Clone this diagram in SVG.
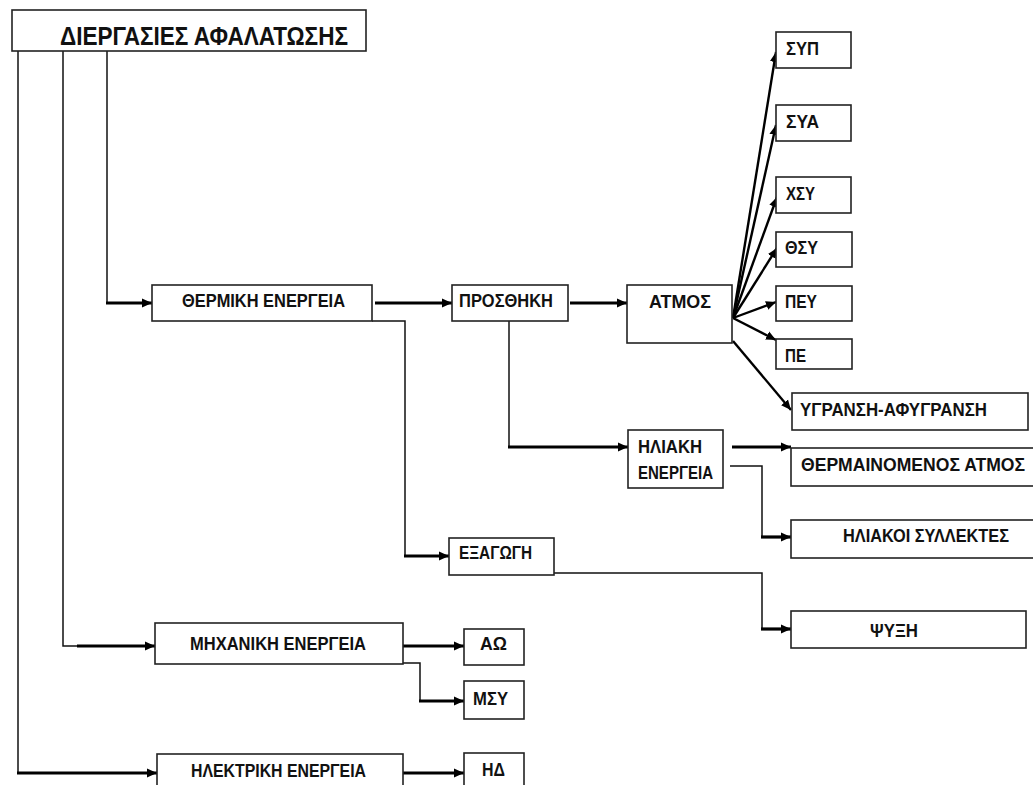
<svg xmlns="http://www.w3.org/2000/svg" width="1033" height="785" viewBox="0 0 1033 785">
<style>
.box{fill:#fff;stroke:#222;stroke-width:1.6}
.t{font-family:"Liberation Sans",Arial,sans-serif;font-weight:bold;font-size:19px;fill:#111}
.title{font-size:26px}
.thin{fill:none;stroke:#111;stroke-width:1.5}
.thick{fill:none;stroke:#000;stroke-width:3.2;marker-end:url(#ah)}
.fan{fill:none;stroke:#000;stroke-width:2.4;marker-end:url(#ah)}
</style>
<defs>
<marker id="ah" markerUnits="userSpaceOnUse" markerWidth="10" markerHeight="10" refX="10" refY="5" orient="auto">
<path d="M0,0.5 L10,5 L0,9.5 z" fill="#000"/>
</marker>
</defs>
<rect width="1033" height="785" fill="#fff"/>
<g id="connectors">
<path class="thin" d="M107,51 V303"/>
<path class="thick" d="M106,303 H152"/>
<path class="thin" d="M63,51 V646 H78"/>
<path class="thick" d="M77,646 H155"/>
<path class="thin" d="M18,51 V773"/>
<path class="thick" d="M17,773 H157"/>
<path class="thick" d="M375,303 H452"/>
<path class="thick" d="M570,303 H627"/>
<path class="thin" d="M372,321 H405 V556"/>
<path class="thick" d="M404,556 H449"/>
<path class="thin" d="M509,321 V447"/>
<path class="thick" d="M508,447 H628"/>
<path class="fan" d="M733,318 L776,52"/>
<path class="fan" d="M733,318 L776,125"/>
<path class="fan" d="M733,318 L777,197"/>
<path class="fan" d="M733,318 L777,248"/>
<path class="fan" d="M733,318 L776,302"/>
<path class="fan" d="M733,318 L776,340"/>
<path class="fan" d="M733,341 L791,410"/>
<path class="thick" d="M732,447 H791"/>
<path class="thin" d="M730,466 H762 V537"/>
<path class="thick" d="M761,537 H791"/>
<path class="thin" d="M554,573 H762 V629"/>
<path class="thick" d="M761,629 H791"/>
<path class="thick" d="M403,646 H464"/>
<path class="thin" d="M403,663 H420 V701"/>
<path class="thick" d="M419,701 H464"/>
<path class="thick" d="M403,773 H464"/>
</g>
<g id="n-title"><rect class="box" x="12" y="10" width="354" height="41"/><text class="t title" x="60" y="45" textLength="288" lengthAdjust="spacingAndGlyphs">ΔΙΕΡΓΑΣΙΕΣ  ΑΦΑΛΑΤΩΣΗΣ</text></g>
<g id="n-thermiki"><rect class="box" x="152" y="285" width="220" height="36"/><text class="t" x="182" y="307" textLength="163" lengthAdjust="spacingAndGlyphs">ΘΕΡΜΙΚΗ ΕΝΕΡΓΕΙΑ</text></g>
<g id="n-prosthiki"><rect class="box" x="452" y="285" width="116" height="36"/><text class="t" x="459" y="307" textLength="94" lengthAdjust="spacingAndGlyphs">ΠΡΟΣΘΗΚΗ</text></g>
<g id="n-atmos"><rect class="box" x="627" y="285" width="105" height="58"/><text class="t" x="649" y="308" textLength="62" lengthAdjust="spacingAndGlyphs">ΑΤΜΟΣ</text></g>
<g id="n-syp"><rect class="box" x="776" y="32" width="75" height="36"/><text class="t" x="786" y="55" textLength="33" lengthAdjust="spacingAndGlyphs">ΣΥΠ</text></g>
<g id="n-sya"><rect class="box" x="776" y="105" width="75" height="36"/><text class="t" x="786" y="128" textLength="33" lengthAdjust="spacingAndGlyphs">ΣΥΑ</text></g>
<g id="n-xsy"><rect class="box" x="776" y="177" width="75" height="36"/><text class="t" x="786" y="200" textLength="29" lengthAdjust="spacingAndGlyphs">ΧΣΥ</text></g>
<g id="n-thsy"><rect class="box" x="776" y="232" width="76" height="35"/><text class="t" x="785" y="254" textLength="33" lengthAdjust="spacingAndGlyphs">ΘΣΥ</text></g>
<g id="n-pey"><rect class="box" x="776" y="286" width="76" height="35"/><text class="t" x="785" y="308" textLength="32" lengthAdjust="spacingAndGlyphs">ΠΕΥ</text></g>
<g id="n-pe"><rect class="box" x="776" y="339" width="76" height="30"/><text class="t" x="785" y="362" textLength="21" lengthAdjust="spacingAndGlyphs">ΠΕ</text></g>
<g id="n-ygransi"><rect class="box" x="792" y="393" width="236" height="37"/><text class="t" x="800" y="416" textLength="187" lengthAdjust="spacingAndGlyphs">ΥΓΡΑΝΣΗ-ΑΦΥΓΡΑΝΣΗ</text></g>
<g id="n-iliaki"><rect class="box" x="628" y="430" width="95" height="58"/><text class="t" x="638" y="453" textLength="64" lengthAdjust="spacingAndGlyphs">ΗΛΙΑΚΗ</text><text class="t" x="638" y="479" textLength="75" lengthAdjust="spacingAndGlyphs">ΕΝΕΡΓΕΙΑ</text></g>
<g id="n-thermainomenos"><rect class="box" x="791" y="448" width="250" height="38"/><text class="t" x="801" y="471" textLength="224" lengthAdjust="spacingAndGlyphs">ΘΕΡΜΑΙΝΟΜΕΝΟΣ ΑΤΜΟΣ</text></g>
<g id="n-syllektes"><rect class="box" x="791" y="520" width="250" height="38"/><text class="t" x="843" y="542" textLength="166" lengthAdjust="spacingAndGlyphs">ΗΛΙΑΚΟΙ ΣΥΛΛΕΚΤΕΣ</text></g>
<g id="n-exagogi"><rect class="box" x="449" y="538" width="105" height="37"/><text class="t" x="459" y="559" textLength="73" lengthAdjust="spacingAndGlyphs">ΕΞΑΓΩΓΗ</text></g>
<g id="n-psyxi"><rect class="box" x="791" y="611" width="235" height="37"/><text class="t" x="870" y="637" textLength="48" lengthAdjust="spacingAndGlyphs">ΨΥΞΗ</text></g>
<g id="n-mixaniki"><rect class="box" x="155" y="623" width="248" height="41"/><text class="t" x="190" y="650" textLength="176" lengthAdjust="spacingAndGlyphs">ΜΗΧΑΝΙΚΗ ΕΝΕΡΓΕΙΑ</text></g>
<g id="n-ao"><rect class="box" x="464" y="629" width="60" height="36"/><text class="t" x="480" y="650" textLength="27" lengthAdjust="spacingAndGlyphs">ΑΩ</text></g>
<g id="n-msy"><rect class="box" x="464" y="681" width="60" height="38"/><text class="t" x="473" y="705" textLength="35" lengthAdjust="spacingAndGlyphs">ΜΣΥ</text></g>
<g id="n-ilektriki"><rect class="box" x="157" y="754" width="246" height="50"/><text class="t" x="191" y="777" textLength="175" lengthAdjust="spacingAndGlyphs">ΗΛΕΚΤΡΙΚΗ ΕΝΕΡΓΕΙΑ</text></g>
<g id="n-id"><rect class="box" x="464" y="753" width="60" height="50"/><text class="t" x="482" y="776" textLength="23" lengthAdjust="spacingAndGlyphs">ΗΔ</text></g>
</svg>
